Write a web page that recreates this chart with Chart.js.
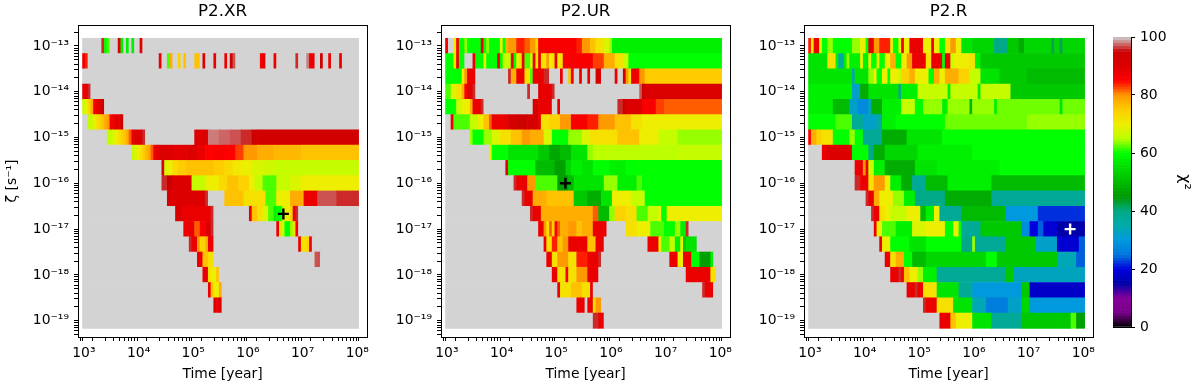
<!doctype html>
<html lang="en">
    <head>
        <meta charset="UTF-8" />
        <title>Chi-square maps P2</title>
        <style>
            body { margin: 0; background: #fff; }
            #figure { position: relative; width: 1200px; height: 387px; }
            #figure canvas { position: absolute; top: 0; }
        </style>
    </head>

    <body>
        <div id="figure">
            <canvas id="panelXR" width="375" height="387" style="left: 0px"></canvas>
            <canvas id="panelUR" width="375" height="387" style="left: 363px"></canvas>
            <canvas id="panelR" width="375" height="387" style="left: 726px"></canvas>
            <canvas id="colorbar" width="99" height="387" style="left: 1101px"></canvas>
        </div>

        <script src="https://cdn.jsdelivr.net/npm/chart.js@4.4.1/dist/chart.umd.min.js"></script>

        <script>
            // time grid: cell edges in log10(year)
            const logTimeFirstEdge = 2.975;
            const logTimeStep = 0.05;
            const timeCellCount = 101;

            // grid rows, log10(zeta / s^-1)
            const logZetaRows = [
                -13, -13.333, -13.667, -14, -14.333, -14.667, -15, -15.333, -15.667, -16,
                -16.333, -16.667, -17, -17.333, -17.667, -18, -18.333, -18.667, -19,
            ];

            const panelTitles = ["P2.XR", "P2.UR", "P2.R"];

            // chi2 along each row as "firstCell:value" runs, g = above the colour range
            const chi2XR = [
                "0:g 7:96 8:60 9:62 10:g 13:90 14:58 15:g 16:58 17:g 18:58 19:g 21:90 22:g",
                "0:88 1:84 2:g 28:88 29:g 31:62 32:78 33:g 35:74 36:g 37:76 38:g 41:76 43:g 44:90 45:g 48:88 49:g 52:88 53:g 54:94 55:97 56:g 65:86 66:90 67:g 70:88 71:g 78:96 79:g 82:98 83:88 85:g 87:94 88:g 90:88 91:g 94:88 95:g",
                "0:g",
                "0:88 1:90 2:96 3:g",
                "0:66 1:70 2:73 3:78 4:86 5:88 6:90 7:95 8:g",
                "0:g 2:66 4:70 5:72 6:74 7:76 8:78 9:80 10:86 11:88 12:90 13:88 14:95 15:g",
                "0:g 9:66 11:68 12:70 13:72 14:74 15:76 16:78 17:82 18:88 19:90 22:96 23:g 41:90 46:98 50:97.5 54:97 58:96 62:94 64:93",
                "0:g 18:66 19:68 20:70 21:72 22:75 23:77 24:79 25:82 26:87 27:89 28:90 33:89 38:90 42:88 45:85 48:86 52:85 56:83 59:80 64:78 70:77 80:76",
                "0:g 29:90 30:67 31:70 33:73 35:75 38:76 48:75 52:73 55:71 58:70 62:68 66:67 70:66",
                "0:g 29:96 31:95 33:90 40:66 45:70 50:73 53:76 57:74 61:70 63:66 66:62 71:66 76:68 80:70",
                "0:g 31:92 32:90 45:96 46:g 52:76 59:72 67:62 71:70 76:78 81:88 86:97 93:96",
                "0:g 34:92 36:88 47:96 48:g 61:88 62:76 64:72 66:68 68:62 70:58 71:60 73:66 74:70 76:74 77:88 78:96 79:g",
                "0:g 37:88 41:82 43:86 45:90 47:96 48:g 71:88 72:72 73:66 74:60 76:64 77:72 78:86 79:g",
                "0:g 39:96 40:88 42:80 43:74 45:78 46:88 48:g 79:88 80:72 82:74 83:88 84:g",
                "0:g 42:88 44:76 46:72 48:g 85:97 87:g",
                "0:g 44:88 46:72 47:70 49:76 50:g",
                "0:g 46:88 47:76 48:70 50:78 51:g",
                "0:g 48:90 49:87 50:90 51:g",
                "0:g",
            ];

            const chi2UR = [
                "0:88 1:g 3:70 4:86 5:60 7:64 8:60 13:88 14:60 15:64 16:60 20:70 21:60 22:78 23:80 26:84 29:82 31:80 33:74 34:86 48:84 50:80 53:76 55:72 58:68 60:64 61:58",
                "0:60 3:72 4:88 5:60 7:g 10:88 11:60 14:70 15:60 19:88 20:60 21:66 24:88 25:60 26:70 27:72 28:88 29:62 31:66 32:88 33:72 34:88 35:72 37:80 38:70 39:72 40:88 41:70 42:72 43:86 54:83 58:78 62:72 65:66 67:60",
                "0:60 6:70 7:80 8:88 11:g 23:96 24:78 26:88 29:72 31:62 32:88 36:96 38:g 42:88 43:g 45:76 46:88 47:g 49:88 50:g 52:88 53:g 55:92 57:g 62:88 63:g 65:94 66:80 67:72 68:88 70:86 71:80 73:75",
                "0:62 2:68 4:72 6:78 7:86 8:90 10:96 11:g 30:96 31:g 34:90 35:88 39:96 40:g 71:97 72:95 73:91",
                "0:60 4:66 6:70 9:78 10:88 13:96 14:g 32:92 34:88 39:g 41:88 42:g 63:96 65:94 66:90 72:86 77:83 80:82",
                "0:g 2:88 3:62 9:66 12:70 14:76 16:82 17:88 23:92 26:94 30:92 34:88 35:72 38:74 42:80 46:86 52:84 56:80 62:76 68:72 72:70",
                "0:g 9:64 10:60 14:64 17:68 20:72 24:76 28:80 31:78 36:68 39:60 45:64 50:68 53:72 63:76 71:70 78:66 85:64",
                "0:g 16:70 17:60 23:56 34:52 38:47 42:50 46:56 52:64 54:65 85:66",
                "0:g 22:88 23:60 33:50 40:46 44:54 46:58 50:56 54:60 60:58 66:60",
                "0:g 25:96 26:88 30:80 33:62 41:46 45:50 47:56 58:64 63:58 70:62 72:60",
                "0:g 28:96 29:88 32:78 37:76 47:52 52:48 57:56 61:70 68:66 73:60",
                "0:g 31:96 32:88 35:78 54:82 56:50 60:64 62:74 66:72 70:62 74:66 78:70 79:60 81:70",
                "0:g 34:88 36:80 37:72 38:82 39:74 40:86 41:82 42:78 45:80 48:76 50:78 54:88 59:g 66:72 70:70 75:62 80:60 84:64 86:58 88:96 89:g",
                "0:g 36:88 37:72 39:84 41:76 43:80 45:88 52:76 55:88 58:g 74:88 78:70 79:62 82:66 84:58 86:70 87:52 88:56 92:g",
                "0:g 37:88 39:72 41:80 45:72 48:84 52:88 56:96 57:g 82:88 85:70 87:88 90:60 93:46 97:58 98:g",
                "0:g 39:88 41:72 44:86 45:72 48:80 52:88 56:g 88:88 97:72 99:g",
                "0:g 41:88 42:72 44:72 46:76 50:72 53:88 54:g 94:96 95:88 98:g",
                "0:g 48:88 51:g 52:88 54:72 55:80 57:g",
                "0:g 54:96 56:88 58:g",
            ];

            const chi2R = [
                "0:84 1:70 2:88 4:70 5:60 7:64 9:60 16:64 19:70 21:60 22:88 24:80 26:84 30:70 31:60 33:70 34:88 35:70 37:88 42:70 45:88 46:70 48:60 50:72 52:80 54:70 56:56 60:54 68:40 73:52 77:48 79:54 89:42 90:54 92:42 93:54",
                "0:56 7:72 10:58 11:36 13:58 14:64 15:58 19:70 20:58 22:70 23:60 25:70 26:60 28:70 30:78 32:60 34:70 36:80 38:88 43:72 45:88 49:60 50:88 52:66 53:70 59:72 61:58 63:52",
                "0:56 16:36 17:56 22:64 24:70 25:60 27:70 29:60 30:70 33:66 34:74 37:78 39:70 44:60 46:78 48:70 50:78 55:74 59:66 63:56 70:52 80:50",
                "0:58 16:32 19:48 22:56 33:40 34:58 40:66 51:58 52:66 62:58 63:66 74:52",
                "0:58 9:50 15:32 18:28 22:34 23:48 27:58 34:66 39:60 42:64 49:58 51:64 59:50 60:64 68:58 69:63 92:56 93:63",
                "0:60 10:62 16:38 20:32 25:36 27:58 32:60 50:63 80:64",
                "0:86 1:78 3:74 5:72 9:60 15:64 17:60 20:38 27:48 36:56 49:60",
                "0:g 5:88 7:90 16:60 22:40 24:48 28:54 40:58 60:60",
                "0:g 17:88 20:80 21:88 22:66 24:58 28:48 39:56 47:58 70:60",
                "0:g 17:96 19:88 22:72 24:80 28:70 30:58 34:48 38:38 43:50 51:58 67:50",
                "0:g 21:96 22:88 24:78 26:70 31:64 35:58 39:40 50:48 67:38",
                "0:g 23:96 24:88 26:72 28:70 30:66 36:70 41:50 43:58 46:70 48:38 56:50 72:30 84:22",
                "0:g 24:88 25:70 27:62 32:58 38:68 43:70 50:60 53:70 55:60 56:38 63:52 78:28 81:20 84:24 86:19 91:15",
                "0:g 26:88 27:70 30:60 37:56 43:60 56:40 60:64 61:38 72:52 83:32 91:19 99:24",
                "0:g 28:88 30:72 32:78 35:60 38:50 43:54 65:60 69:52 91:34 98:24",
                "0:g 30:88 33:96 34:88 35:76 37:70 40:64 42:58 47:38 72:52 75:33",
                "0:g 36:88 39:96 40:88 42:72 47:56 55:38 60:30 78:52 81:18",
                "0:g 42:96 43:88 47:72 53:56 60:34 65:26 73:32 78:54 81:30",
                "0:g 48:88 52:76 54:70 60:56 67:38 78:52 96:62 98:46",
            ];

            // best-fit point of each panel
            const bestTime = [4.45e6, 1.47e5, 5.75e7];
            const bestZeta = [2.15e-17, 1e-16, 1e-17];

            const colorbarTicks = [0, 20, 40, 60, 80, 100];

            // axis limits in log10 units
            const xLogRange = [2.892, 8.18];
            const yLogRange = [-19.356, -12.544];

            Chart.defaults.font.family = "'DejaVu Sans', sans-serif";
            Chart.defaults.color = "#000";

            // matplotlib nipy_spectral, 21 stops
            const spectral = [
                [0, 0, 0], [0.4667, 0, 0.5333], [0.5333, 0, 0.6], [0, 0, 0.6667],
                [0, 0, 0.8667], [0, 0.4667, 0.8667], [0, 0.6, 0.8667], [0, 0.6667, 0.6667],
                [0, 0.6667, 0.5333], [0, 0.6, 0], [0, 0.7333, 0], [0, 0.8667, 0], [0, 1, 0],
                [0.7333, 1, 0], [0.9333, 0.9333, 0], [1, 0.8, 0], [1, 0.6, 0], [1, 0, 0],
                [0.8667, 0, 0], [0.8, 0, 0], [0.8, 0.8, 0.8],
            ];

            function chi2Color(v) {
                if (v === null) return "#d3d3d3";
                const f = Math.min(Math.max(v, 0), 100) / 5;
                const i = Math.min(Math.floor(f), 19);
                const t = f - i;
                const c = spectral[i].map((a, k) =>
                    Math.round(255 * (a + (spectral[i + 1][k] - a) * t))
                );
                return `rgb(${c[0]}, ${c[1]}, ${c[2]})`;
            }

            const superscripts = {
                "-": "\u207b", 0: "\u2070", 1: "\u00b9", 2: "\u00b2", 3: "\u00b3",
                4: "\u2074", 5: "\u2075", 6: "\u2076", 7: "\u2077", 8: "\u2078", 9: "\u2079",
            };

            function powerLabel(value, index, ticks) {
                if (!ticks[index].major) return "";
                const exp = String(Math.round(Math.log10(value)));
                return "10" + exp.split("").map((c) => superscripts[c]).join("");
            }

            // major and minor ticks of a log axis
            function logTicks(lo, hi) {
                const ticks = [];
                for (let e = Math.floor(lo); e <= Math.ceil(hi); e++) {
                    for (let m = 1; m < 10; m++) {
                        const lv = Math.log10(m) + e;
                        if (lv >= lo && lv <= hi) {
                            ticks.push({ value: m * Math.pow(10, e), major: m === 1 });
                        }
                    }
                }
                return ticks;
            }

            function edgeTime(cell) {
                return Math.pow(10, logTimeFirstEdge + cell * logTimeStep);
            }

            const frame = { color: "#000", width: 1 };
            const tickFont = { size: 13.9 };

            function frameAxis(position, axis) {
                return {
                    axis: axis,
                    type: "linear",
                    position: position,
                    ticks: { display: false },
                    grid: { display: false },
                    border: frame,
                    afterFit: (scale) => {
                        if (axis === "x") scale.height = 0;
                        else scale.width = 0;
                    },
                };
            }

            function drawPanel(canvasId, title, rows, bestT, bestZ, markerColor, yTitle) {
                const cells = [];
                const colors = [];
                rows.forEach((row, r) => {
                    const runs = row.trim().split(/\s+/).map((s) => s.split(":"));
                    runs.forEach((run, k) => {
                        const start = Number(run[0]);
                        const end = k + 1 < runs.length ? Number(runs[k + 1][0]) : timeCellCount;
                        cells.push({ x: [edgeTime(start), edgeTime(end)], y: logZetaRows[r] });
                        colors.push(chi2Color(run[1] === "g" ? null : Number(run[1])));
                    });
                });

                return new Chart(document.getElementById(canvasId), {
                    type: "bar",
                    data: {
                        datasets: [
                            {
                                type: "scatter",
                                data: [{ x: bestT, y: bestZ }],
                                xAxisID: "x",
                                yAxisID: "y",
                                pointStyle: "cross",
                                pointRadius: 5.5,
                                pointBorderWidth: 2.4,
                                pointBorderColor: markerColor,
                                order: 0,
                            },
                            {
                                type: "bar",
                                indexAxis: "y",
                                data: cells,
                                backgroundColor: colors,
                                xAxisID: "x",
                                yAxisID: "row",
                                barPercentage: 1,
                                categoryPercentage: 1,
                                borderWidth: 0,
                                order: 1,
                            },
                        ],
                    },
                    options: {
                        responsive: false,
                        animation: false,
                        events: [],
                        layout: { padding: { right: 3 } },
                        plugins: {
                            legend: { display: false },
                            tooltip: { enabled: false },
                            title: {
                                display: true,
                                text: title,
                                fullSize: false,
                                color: "#000",
                                font: { size: 16.7, weight: "normal" },
                                padding: { top: 2, bottom: 3 },
                            },
                        },
                        scales: {
                            x: {
                                type: "logarithmic",
                                position: "bottom",
                                offset: false,
                                min: Math.pow(10, xLogRange[0]),
                                max: Math.pow(10, xLogRange[1]),
                                afterBuildTicks: (axis) => {
                                    axis.ticks = logTicks(xLogRange[0], xLogRange[1]);
                                },
                                afterFit: (axis) => {
                                    axis.height = 50;
                                },
                                ticks: {
                                    autoSkip: false,
                                    maxRotation: 0,
                                    padding: 4,
                                    font: tickFont,
                                    callback: powerLabel,
                                },
                                grid: { drawOnChartArea: false, tickLength: 4, tickColor: "#000" },
                                border: frame,
                                title: {
                                    display: true,
                                    text: "Time [year]",
                                    font: { size: 13.9 },
                                    padding: { top: 0, bottom: 4 },
                                },
                            },
                            xTop: frameAxis("top", "x"),
                            y: {
                                type: "logarithmic",
                                position: "left",
                                offset: false,
                                min: Math.pow(10, yLogRange[0]),
                                max: Math.pow(10, yLogRange[1]),
                                afterBuildTicks: (axis) => {
                                    axis.ticks = logTicks(yLogRange[0], yLogRange[1]);
                                },
                                afterFit: (axis) => {
                                    axis.width = 78;
                                },
                                ticks: {
                                    autoSkip: false,
                                    padding: 5,
                                    font: tickFont,
                                    callback: powerLabel,
                                },
                                grid: { drawOnChartArea: false, tickLength: 4, tickColor: "#000" },
                                border: frame,
                                title: {
                                    display: yTitle,
                                    text: "\u03b6 [s\u207b\u00b9]",
                                    font: { size: 13.9 },
                                    padding: { top: 4, bottom: 0 },
                                },
                            },
                            yRight: frameAxis("right", "y"),
                            row: {
                                axis: "y",
                                type: "linear",
                                display: false,
                                offset: false,
                                min: yLogRange[0],
                                max: yLogRange[1],
                                ticks: { stepSize: 1 },
                            },
                        },
                    },
                });
            }

            drawPanel("panelXR", panelTitles[0], chi2XR, bestTime[0], bestZeta[0], "#000", true);
            drawPanel("panelUR", panelTitles[1], chi2UR, bestTime[1], bestZeta[1], "#000", false);
            drawPanel("panelR", panelTitles[2], chi2R, bestTime[2], bestZeta[2], "#fff", false);

            // colour bar: 100 slices of the colour map
            const levels = Array.from({ length: 100 }, (_, i) => i);

            new Chart(document.getElementById("colorbar"), {
                type: "bar",
                data: {
                    labels: ["chi2"],
                    datasets: [
                        {
                            data: levels.map((v) => ({ x: "chi2", y: [v, v + 1] })),
                            backgroundColor: levels.map((v) => chi2Color(v + 0.5)),
                            xAxisID: "x",
                            yAxisID: "y",
                            barPercentage: 1,
                            categoryPercentage: 1,
                            borderWidth: 0,
                        },
                    ],
                },
                options: {
                    responsive: false,
                    animation: false,
                    events: [],
                    layout: { padding: { left: 12, top: 37, bottom: 60 } },
                    plugins: { legend: { display: false }, tooltip: { enabled: false } },
                    scales: {
                        x: {
                            type: "category",
                            position: "bottom",
                            ticks: { display: false },
                            grid: { display: false },
                            border: frame,
                            afterFit: (axis) => {
                                axis.height = 0;
                            },
                        },
                        xTop: frameAxis("top", "x"),
                        yLeft: frameAxis("left", "y"),
                        y: {
                            type: "linear",
                            position: "right",
                            min: 0,
                            max: 100,
                            afterBuildTicks: (axis) => {
                                axis.ticks = colorbarTicks.map((v) => ({ value: v }));
                            },
                            afterFit: (axis) => {
                                axis.width = 69;
                            },
                            ticks: { padding: 5, font: tickFont },
                            grid: { drawOnChartArea: false, tickLength: 4, tickColor: "#000" },
                            border: frame,
                            title: {
                                display: true,
                                text: "\u03c7\u00b2",
                                font: { size: 16 },
                                padding: { top: 6, bottom: 0 },
                            },
                        },
                    },
                },
            });
        </script>
    </body>
</html>
